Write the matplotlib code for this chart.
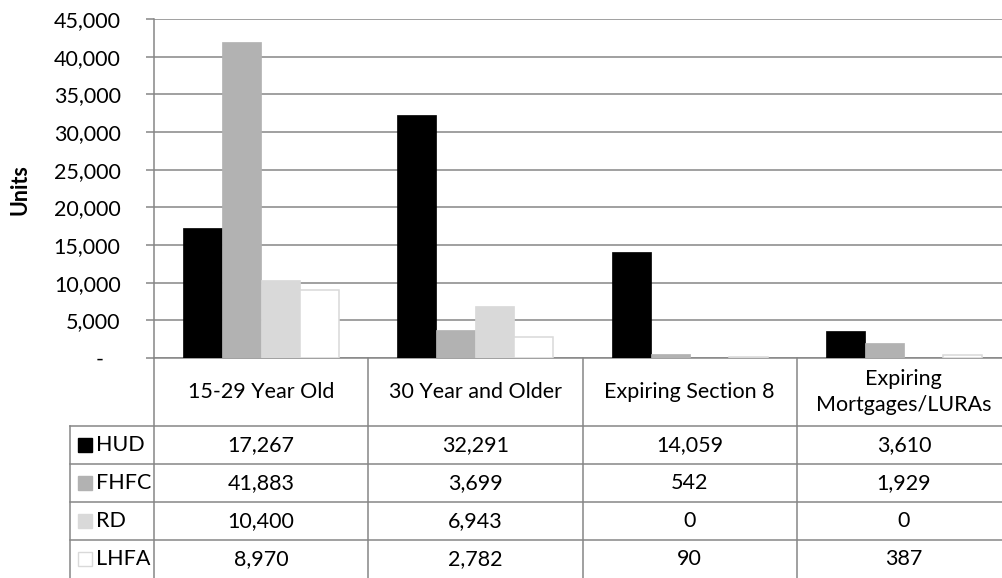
import matplotlib
matplotlib.use("Agg")
import matplotlib.pyplot as plt
from matplotlib.ticker import FuncFormatter, MultipleLocator
from matplotlib.transforms import blended_transform_factory
from matplotlib.patches import Rectangle

categories = ["15-29 Year Old", "30 Year and Older", "Expiring Section 8", "Expiring\nMortgages/LURAs"]
series_names = ["HUD", "FHFC", "RD", "LHFA"]
hud = [17267, 32291, 14059, 3610]
fhfc = [41883, 3699, 542, 1929]
rd = [10400, 6943, 0, 0]
lhfa = [8970, 2782, 90, 387]
series_values = [hud, fhfc, rd, lhfa]

fills = ["#000000", "#b2b2b2", "#d9d9d9", "#ffffff"]
edges = ["#000000", "#b2b2b2", "#d9d9d9", "#d9d9d9"]
GRID = "#868686"
FONT = "Lato"
FS = 15.5

W, H = 1002, 578
fig = plt.figure(figsize=(W / 100, H / 100), dpi=100)

# main plot axes (pixel layout)
left_px, right_px, top_px, zero_px = 154, 1011, 19, 358
ax = fig.add_axes([left_px / W, 1 - zero_px / H, (right_px - left_px) / W, (zero_px - top_px) / H])

bw = 0.182
x = list(range(len(categories)))
for k, (vals, fc, ec) in enumerate(zip(series_values, fills, edges)):
    xs = [i + (k - 1.5) * bw for i in x]
    ax.bar(xs, vals, width=bw, color=fc, edgecolor=ec, linewidth=1.1 if k == 3 else 0.5, zorder=3)

ax.set_xlim(-0.5, len(categories) - 0.5)
ax.set_ylim(0, 45000)
ax.yaxis.set_major_locator(MultipleLocator(5000))
ax.yaxis.set_major_formatter(FuncFormatter(lambda v, p: "-   " if v == 0 else f"{int(v):,}"))
ax.grid(axis="y", color=GRID, linewidth=1.1, zorder=0)
ax.set_xticks([])
for s in ["top", "right"]:
    ax.spines[s].set_visible(False)
for s in ["left", "bottom"]:
    ax.spines[s].set_color(GRID)
    ax.spines[s].set_linewidth(1.1)
ax.tick_params(axis="y", length=6, width=1.1, color=GRID, pad=18, direction="out")
for lab in ax.get_yticklabels():
    lab.set_fontfamily(FONT)
    lab.set_fontsize(FS)
    lab.set_color("#000000")

fig.text(20 / W, 1 - 190 / H, "Units", rotation=90, ha="center", va="center",
         fontfamily=FONT, fontsize=FS, fontweight="bold")

# data table below
ov = fig.add_axes([0, 0, 1, 1])
ov.set_xlim(0, W)
ov.set_ylim(H, 0)
ov.axis("off")
tr = blended_transform_factory(ax.transData, ov.transData)

header_bottom = 426
row_h = 38
table_left = 70
bounds = [i - 0.5 for i in range(len(categories) + 1)]

for b in bounds[:-1]:
    ov.plot([b, b], [zero_px, H], transform=tr, color=GRID, lw=1.1, clip_on=False)
ov.plot([table_left, table_left], [header_bottom, H], color=GRID, lw=1.1, clip_on=False)
for r in range(len(series_names)):
    yy = header_bottom + r * row_h
    ov.plot([table_left, W], [yy, yy], color=GRID, lw=1.1, clip_on=False)

for i, c in enumerate(categories):
    ov.text(i, (zero_px + header_bottom) / 2, c, transform=tr, ha="center", va="center",
            fontfamily=FONT, fontsize=FS, linespacing=1.4, multialignment="center")

for r, (name, vals) in enumerate(zip(series_names, series_values)):
    yc = header_bottom + r * row_h + row_h / 2
    ov.add_patch(Rectangle((78, yc - 7), 14, 14, facecolor=fills[r],
                           edgecolor=edges[r], lw=1.0))
    ov.text(96, yc, name, ha="left", va="center", fontfamily=FONT, fontsize=FS)
    for i, v in enumerate(vals):
        ov.text(i, yc, f"{v:,}", transform=tr, ha="center", va="center",
                fontfamily=FONT, fontsize=FS)

fig.savefig("out.png", dpi=100)
